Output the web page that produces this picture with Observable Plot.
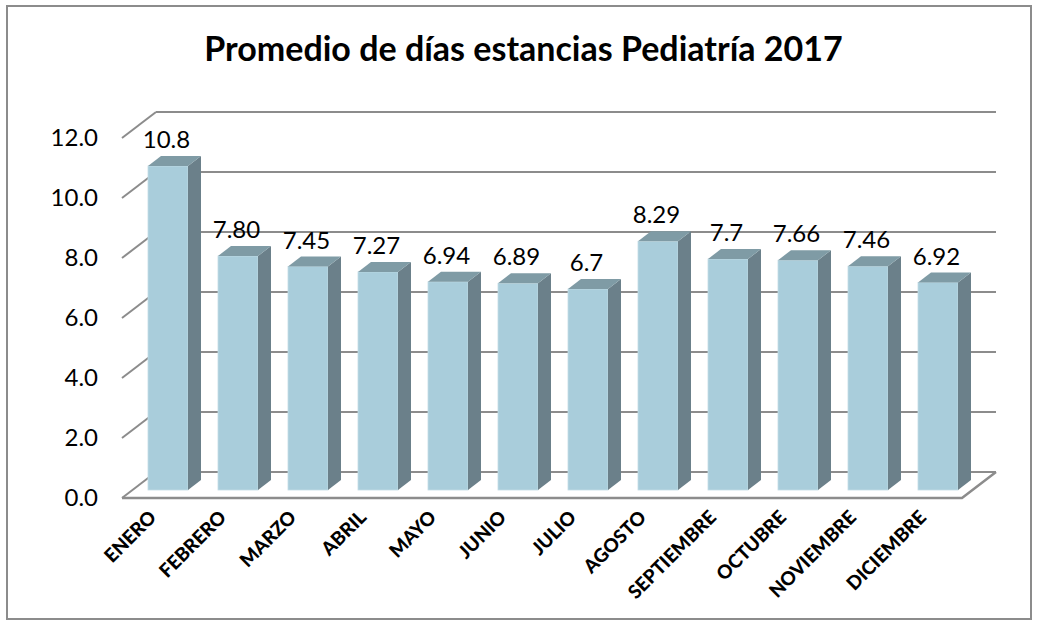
<!DOCTYPE html>
<html>
<head>
<meta charset="utf-8">
<script src="https://cdn.jsdelivr.net/npm/d3@7"></script>
<script src="https://cdn.jsdelivr.net/npm/@observablehq/plot@0.6"></script>
<style>
  html, body { margin: 0; padding: 0; background: #fff; }
  #wrap { position: relative; width: 1041px; height: 626px; overflow: hidden; background: #fff; }
  #frame { position: absolute; left: 6px; top: 5px; width: 1026px; height: 615px; box-sizing: border-box; border: 2px solid #8c8c8c; }
  #title { position: absolute; left: 6px; top: 31px; width: 1035px; text-align: center; font-family: Lato, "Open Sans", sans-serif; font-weight: bold; font-size: 34px; line-height: 1; color: #000; }
  #chart { position: absolute; left: 0; top: 90px; }
</style>
</head>
<body>
<div id="wrap">
  <div id="frame"></div>
  <div id="title">Promedio de días estancias Pediatría 2017</div>
  <div id="chart"></div>
</div>
<script>
const months = ["ENERO", "FEBRERO", "MARZO", "ABRIL", "MAYO", "JUNIO", "JULIO", "AGOSTO", "SEPTIEMBRE", "OCTUBRE", "NOVIEMBRE", "DICIEMBRE"];
const values = [10.8, 7.80, 7.45, 7.27, 6.94, 6.89, 6.7, 8.29, 7.7, 7.66, 7.46, 6.92];
const valueLabels = ["10.8", "7.80", "7.45", "7.27", "6.94", "6.89", "6.7", "8.29", "7.7", "7.66", "7.46", "6.92"];
const yTicks = [0, 2, 4, 6, 8, 10, 12];

const data = months.map((m, i) => ({month: m, value: values[i], label: valueLabels[i]}));

// 3D depth offsets (pixels) relative to the plane of the bar fronts
const FRONT = [-10.5, 8];
const BACK = [23.5, -18];
const DEPTH = [13, -10];

const colFront = "#a9cddb";
const colSide = "#6b808a";
const colTop = "#7f9ba5";
const colGrid = "#8c8c8c";

function walls(index, scales, values, dims) {
  const {x, y} = scales;
  const g = d3.create("svg:g");
  const xl = dims.marginLeft, xr = dims.width - dims.marginRight;
  for (const t of yTicks) {
    const yy = y(t);
    g.append("line")
      .attr("x1", xl + FRONT[0]).attr("y1", yy + FRONT[1])
      .attr("x2", xl + BACK[0]).attr("y2", yy + BACK[1])
      .attr("stroke", colGrid).attr("stroke-width", 2);
    g.append("line")
      .attr("x1", xl + BACK[0]).attr("y1", yy + BACK[1])
      .attr("x2", xr + BACK[0]).attr("y2", yy + BACK[1])
      .attr("stroke", colGrid).attr("stroke-width", 2);
  }
  const y0 = y(0);
  g.append("path")
    .attr("d", `M${xl + FRONT[0]},${y0 + FRONT[1]}L${xr + FRONT[0]},${y0 + FRONT[1]}L${xr + BACK[0]},${y0 + BACK[1]}`)
    .attr("fill", "none").attr("stroke", colGrid).attr("stroke-width", 2.5);
  return g.node();
}

function bars3d(index, scales, values, dims) {
  const {x, y} = scales;
  const bw = x.bandwidth ? x.bandwidth() : scales.scales.x.bandwidth;
  const g = d3.create("svg:g");
  data.forEach(d => {
    const x0 = x(d.month), x1 = x0 + bw, y1 = y(d.value), y0 = y(0);
    g.append("path")
      .attr("d", `M${x1},${y0}L${x1 + DEPTH[0]},${y0 + DEPTH[1]}L${x1 + DEPTH[0]},${y1 + DEPTH[1]}L${x1},${y1}Z`)
      .attr("fill", colSide);
    g.append("path")
      .attr("d", `M${x0},${y1}L${x0 + DEPTH[0]},${y1 + DEPTH[1]}L${x1 + DEPTH[0]},${y1 + DEPTH[1]}L${x1},${y1}Z`)
      .attr("fill", colTop);
  });
  return g.node();
}

const chart = Plot.plot({
  width: 1041,
  height: 536,
  marginLeft: 132.5,
  marginRight: 68.5,
  marginTop: 40,
  marginBottom: 136,
  style: {fontFamily: "Lato, 'Open Sans', sans-serif", fontSize: "24px", background: "transparent", color: "#000"},
  x: {domain: months, paddingInner: 3 / 7, paddingOuter: 3 / 14, align: 0.5, axis: null},
  y: {domain: [0, 12], axis: null},
  marks: [
    walls,
    Plot.barY(data, {x: "month", y: "value", fill: colFront, stroke: "#c4dde7", strokeWidth: 0.8}),
    bars3d,
    Plot.axisY({ticks: yTicks, tickFormat: d => d.toFixed(1), tickSize: 0, tickPadding: 35, dy: 8, fontSize: 24, label: null}),
    Plot.text(months, {x: d => d, text: d => d, frameAnchor: "bottom", rotate: -45, textAnchor: "end", dy: 28, dx: -11, fontSize: 19, fontWeight: 900}),
    Plot.text(data, {x: "month", y: "value", text: "label", dy: -26, dx: -2, fontSize: 24})
  ]
});
document.getElementById("chart").appendChild(chart);
</script>
</body>
</html>
